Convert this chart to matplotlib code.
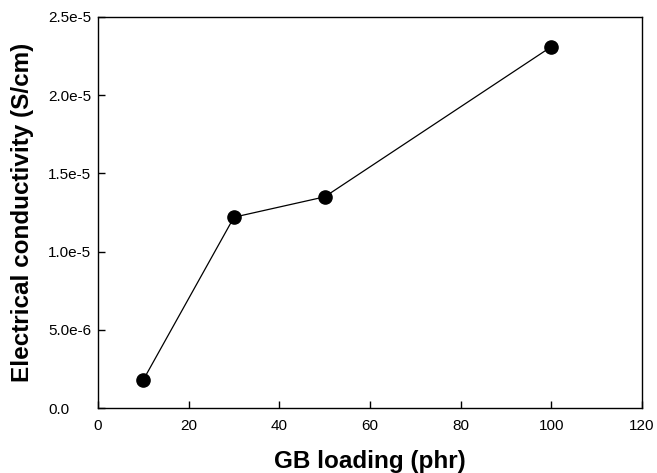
import matplotlib
matplotlib.use("Agg")
from matplotlib import pyplot as plt

plt.rcParams['font.family'] = ['Liberation Sans', 'DejaVu Sans']

# GB loading (phr) vs electrical conductivity (S/cm)
loading = [10, 30, 50, 100]
conductivity = [1.8e-6, 1.22e-5, 1.35e-5, 2.31e-5]

x_ticks = [0, 20, 40, 60, 80, 100, 120]
y_ticks = [0, 5e-6, 1e-5, 1.5e-5, 2e-5, 2.5e-5]
y_ticklabels = ['0.0', '5.0e-6', '1.0e-5', '1.5e-5', '2.0e-5', '2.5e-5']

fig = plt.figure(figsize=(6.57, 4.73), dpi=100)
ax = fig.add_axes([98/657, 1 - 408/473, (642-98)/657, (408-17)/473])

ax.plot(loading, conductivity, color='black', linewidth=0.9,
        marker='o', markersize=9.5, markerfacecolor='black', markeredgecolor='black')

ax.set_xlim(0, 120)
ax.set_ylim(0, 2.5e-5)
ax.set_xticks(x_ticks)
ax.set_yticks(y_ticks)
ax.set_yticklabels(y_ticklabels)
ax.tick_params(direction='in', length=5, width=1, labelsize=11,
               top=False, right=False)
ax.tick_params(axis='x', pad=8)
# y tick labels are left aligned in the original
ax.tick_params(axis='y', pad=36)
for lab in ax.get_yticklabels():
    lab.set_horizontalalignment('left')
for s in ax.spines.values():
    s.set_linewidth(1)

ax.set_xlabel('GB loading (phr)', fontsize=17.5, fontweight='bold', labelpad=12)
ax.set_ylabel('Electrical conductivity (S/cm)', fontsize=17.5, fontweight='bold', labelpad=10)

fig.savefig('out.png', dpi=100)
